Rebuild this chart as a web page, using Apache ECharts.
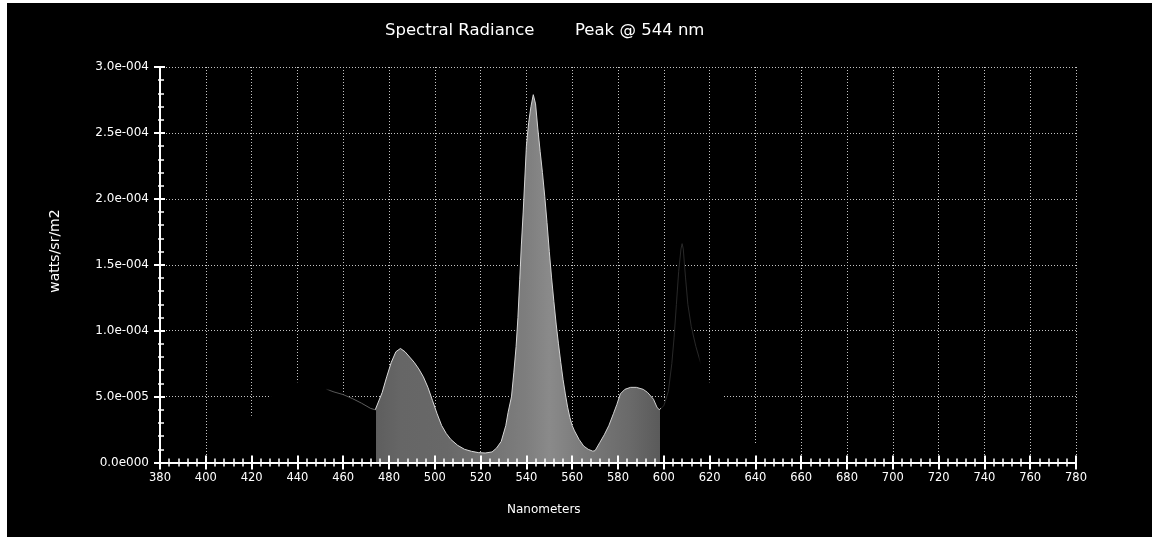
<!DOCTYPE html>
<html><head><meta charset="utf-8">
<script src="https://cdn.jsdelivr.net/npm/echarts@6/dist/echarts.min.js"></script>
<style>
html,body{margin:0;padding:0;background:#000;width:1152px;height:537px;overflow:hidden;}
#stripL{position:absolute;left:0;top:0;width:7px;height:537px;background:#fff;}
#stripT{position:absolute;left:0;top:0;width:1152px;height:3px;background:#fff;}
#chart{position:absolute;left:7px;top:3px;width:1145px;height:534px;background:#000;}
</style></head><body><div id="stripL"></div><div id="stripT"></div><div id="chart"></div>
<script>
// ---- data ----
const wavelengths = [380,390,400,405,410,415,420,425,429,433,437,440,444,448,452,456,460,464,468,472,474,
  477,479,481,483,485,487,489,491,493,495,497,499,501,503,505,507,510,513,516,519,522,525,527,529,531,532,
  533.5,534.5,535.5,536.3,537.1,537.8,538.6,539.3,540,541,542,543,543.5,544,545,546,547,548,549,550,551,552,
  553,554,555,556,557,558,559,560,561,563,565,567,569,570,572,574,576,578,579.5,581,583,585.5,588,591,593,595.5,
  597,598,600,602,603.5,604.5,605.5,606.5,607.5,608,608.5,609.5,610.5,612,614,616,618,620,622,625,628,631,634,
  637,640,645,650,655,660,670,690,720,780];
const radiance = [0,0,0.1e-5,0.4e-5,1.2e-5,2.3e-5,3.5e-5,4.5e-5,5.1e-5,5.6e-5,5.95e-5,6.05e-5,6.0e-5,5.8e-5,5.6e-5,5.35e-5,5.15e-5,4.85e-5,4.5e-5,4.1e-5,4.0e-5,
  5.3e-5,6.5e-5,7.6e-5,8.4e-5,8.65e-5,8.4e-5,8.0e-5,7.6e-5,7.1e-5,6.5e-5,5.7e-5,4.7e-5,3.7e-5,2.8e-5,2.2e-5,1.75e-5,1.3e-5,1.0e-5,0.85e-5,0.75e-5,0.72e-5,0.8e-5,1.1e-5,1.6e-5,2.8e-5,3.8e-5,
  5.0e-5,6.8e-5,8.8e-5,11.0e-5,13.9e-5,16.5e-5,19.0e-5,21.5e-5,24.0e-5,25.8e-5,27.0e-5,27.9e-5,28.0e-5,27.2e-5,25.3e-5,23.6e-5,22.0e-5,20.2e-5,18.2e-5,16.0e-5,14.0e-5,12.2e-5,
  10.5e-5,9.0e-5,7.6e-5,6.3e-5,5.2e-5,4.2e-5,3.4e-5,2.8e-5,2.4e-5,1.75e-5,1.25e-5,1.0e-5,0.86e-5,0.9e-5,1.5e-5,2.1e-5,2.8e-5,3.7e-5,4.4e-5,5.2e-5,5.55e-5,5.7e-5,5.7e-5,5.55e-5,5.3e-5,4.8e-5,
  4.2e-5,4.0e-5,4.3e-5,5.4e-5,7.5e-5,9.5e-5,12.0e-5,14.5e-5,16.2e-5,16.6e-5,16.2e-5,14.0e-5,12.0e-5,10.3e-5,8.8e-5,7.6e-5,6.7e-5,6.0e-5,5.6e-5,5.2e-5,4.5e-5,3.5e-5,2.6e-5,
  1.9e-5,1.4e-5,0.9e-5,0.6e-5,0.4e-5,0.3e-5,0.15e-5,0.08e-5,0.04e-5,0];
const xTicks = [380,400,420,440,460,480,500,520,540,560,580,600,620,640,660,680,700,720,740,760,780];
const yTickValues = [0,5e-5,1e-4,1.5e-4,2e-4,2.5e-4,3e-4];
const yTickLabels = ['0.0e000','5.0e-005','1.0e-004','1.5e-004','2.0e-004','2.5e-004','3.0e-004'];
const titleMain = 'Spectral Radiance';
const titlePeak = 'Peak @ 544 nm';
const xName = 'Nanometers';
const yName = 'watts/sr/m2';

// ---- chart ----
const xMin = xTicks[0], xMax = xTicks[xTicks.length-1], xStep = xTicks[1]-xTicks[0];
const yStep = yTickValues[1]-yTickValues[0];
const s = nm => (nm - xMin) / (xMax - xMin);
const font = "'DejaVu Sans', sans-serif";

const areaGrad = new echarts.graphic.LinearGradient(0,0,1,0,[
  {offset:0,color:'#000'},{offset:s(474.5),color:'#000'},
  {offset:s(474.5),color:'#5e5e5e'},{offset:s(485),color:'#666'},{offset:s(505),color:'#686868'},
  {offset:s(525),color:'#747474'},{offset:s(540),color:'#7e7e7e'},{offset:s(550),color:'#8a8a8a'},
  {offset:s(565),color:'#7a7a7a'},{offset:s(585),color:'#6a6a6a'},{offset:s(598.5),color:'#5a5a5a'},
  {offset:s(598.5),color:'#000'},{offset:1,color:'#000'}]);
const lineGrad = new echarts.graphic.LinearGradient(0,0,1,0,[
  {offset:0,color:'#000'},{offset:s(453),color:'#000'},{offset:s(455),color:'#555'},
  {offset:s(474.5),color:'#606060'},{offset:s(474.5),color:'#dcdcdc'},{offset:s(598.5),color:'#cfcfcf'},
  {offset:s(598.5),color:'#282828'},{offset:s(615),color:'#282828'},{offset:s(616),color:'#000'},{offset:1,color:'#000'}]);

const chart = echarts.init(document.getElementById('chart'));
const axisLineStyle = {color:'#fff', width:2};
const gridLine = {show:true, lineStyle:{color:'#c4c4c4', width:1, type:[1,2]}};
chart.setOption({
  backgroundColor:'#000',
  animation:false,
  title:[
    {text:titleMain, left:378, top:19, padding:0, textStyle:{color:'#fff',fontSize:16.5,fontWeight:'normal',fontFamily:font}},
    {text:titlePeak, left:568, top:19, padding:0, textStyle:{color:'#fff',fontSize:16.5,fontWeight:'normal',fontFamily:font}},
    {text:xName, left:500, top:501, padding:0, textStyle:{color:'#fff',fontSize:12,fontWeight:'normal',fontFamily:font}}
  ],
  graphic:[{type:'text', x:48, y:248, rotation:Math.PI/2,
    style:{text:yName, fill:'#fff', font:"14px 'DejaVu Sans'", align:'center', verticalAlign:'middle'}}],
  grid:{left:153, right:76, top:64, bottom:74.5},
  xAxis:[
    {type:'value', min:xMin, max:xMax, interval:xStep, position:'bottom',
     axisLine:{lineStyle:axisLineStyle},
     axisTick:{show:true, inside:false, length:7, lineStyle:{color:'#fff',width:2}},
     minorTick:{show:true, splitNumber:5, length:4, lineStyle:{color:'#fff',width:1.5}},
     axisLabel:{color:'#fff', fontSize:11.5, fontFamily:font, margin:10, formatter:v=>String(v)},
     splitLine:gridLine},
    {type:'value', min:xMin, max:xMax, interval:xStep, position:'bottom', z:5,
     axisLine:{lineStyle:axisLineStyle},
     axisTick:{show:true, inside:true, length:7, lineStyle:{color:'#fff',width:2}},
     minorTick:{show:true, splitNumber:5, length:4, lineStyle:{color:'#fff',width:1.5}},
     axisLabel:{show:false}, splitLine:{show:false}}
  ],
  yAxis:[
    {type:'value', min:0, max:yTickValues[yTickValues.length-1], interval:yStep, position:'left',
     axisLine:{show:true, lineStyle:axisLineStyle},
     axisTick:{show:true, inside:false, length:6, lineStyle:{color:'#fff',width:2}},
     minorTick:{show:true, splitNumber:5, length:2, lineStyle:{color:'#fff',width:1.5}},
     axisLabel:{color:'#fff', fontSize:12, fontFamily:font, margin:11,
       formatter:v=>yTickLabels[Math.round(v/yStep)]},
     splitLine:gridLine},
    {type:'value', min:0, max:yTickValues[yTickValues.length-1], interval:yStep, position:'left', z:5,
     axisLine:{show:true, lineStyle:axisLineStyle},
     axisTick:{show:true, inside:true, length:5, lineStyle:{color:'#fff',width:2}},
     minorTick:{show:true, splitNumber:5, length:4, lineStyle:{color:'#fff',width:1.5}},
     axisLabel:{show:false}, splitLine:{show:false}}
  ],
  series:[{
    type:'line', xAxisIndex:0, yAxisIndex:0, showSymbol:false, smooth:false,
    data: wavelengths.map((w,i)=>[w, radiance[i]]),
    lineStyle:{width:1, color:lineGrad},
    areaStyle:{color:areaGrad, opacity:1}
  }]
});
</script></body></html>
